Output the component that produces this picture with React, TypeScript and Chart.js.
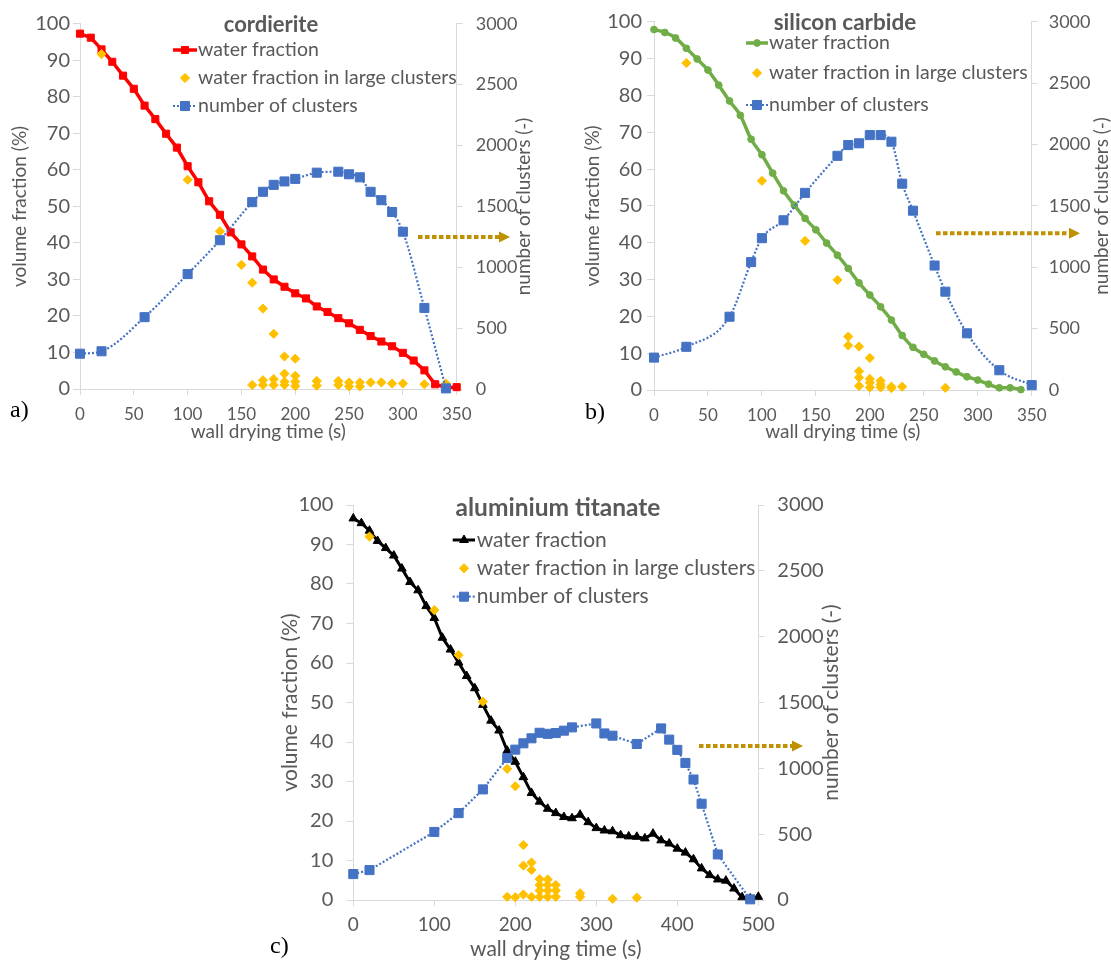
import React, { useEffect, useRef } from "react";
import { Chart, registerables } from "chart.js";

Chart.register(...registerables);

const FONT = "Lato, 'Open Sans', sans-serif";
const TEXT = "#595959";
const AXIS = "#D9D9D9";
const ARROW = "#BF9000";
const BLUE = "#4472C4";
const GOLD = "#FFC000";

// ---------------- a) cordierite ----------------
const cordTime = [0, 10, 20, 30, 40, 50, 60, 70, 80, 90, 100, 110, 120, 130, 140, 150, 160, 170, 180, 190, 200, 210, 220, 230, 240, 250, 260, 270, 280, 290, 300, 310, 320, 330, 340, 350];
const cordWater = [97.3, 96.2, 93.0, 89.6, 85.8, 82.2, 77.6, 73.9, 69.9, 66.1, 61.0, 56.6, 51.4, 47.7, 42.9, 39.6, 36.3, 32.7, 30.0, 28.0, 26.2, 24.8, 22.6, 21.1, 19.4, 18.0, 16.2, 14.5, 13.0, 11.7, 9.9, 7.8, 5.1, 1.3, 0.4, 0.5];
const cordLargeTime = [20, 100, 130, 150, 160, 170, 180, 190, 200, 190, 200, 160, 170, 170, 180, 180, 190, 190, 200, 200, 220, 220, 240, 240, 250, 250, 260, 260, 270, 280, 290, 300, 320, 340];
const cordLarge = [91.7, 57.3, 43.2, 34.0, 29.1, 22.0, 15.1, 8.9, 8.3, 4.2, 3.6, 1.1, 2.4, 1.1, 2.7, 1.1, 2.0, 1.1, 2.0, 0.8, 2.2, 0.9, 2.2, 1.1, 1.8, 0.7, 1.8, 0.7, 1.8, 1.8, 1.5, 1.5, 1.3, 1.5];
const cordClusterTime = [0, 20, 60, 100, 130, 160, 170, 180, 190, 200, 220, 240, 250, 260, 270, 280, 290, 300, 320, 340];
const cordClusters = [290, 310, 590, 944, 1222, 1535, 1620, 1677, 1705, 1726, 1777, 1785, 1764, 1739, 1620, 1551, 1454, 1292, 666, 5];

// ---------------- b) silicon carbide ----------------
const sicTime = [0, 10, 20, 30, 40, 50, 60, 70, 80, 90, 100, 110, 120, 130, 140, 150, 160, 170, 180, 190, 200, 210, 220, 230, 240, 250, 260, 270, 280, 290, 300, 310, 320, 330, 340];
const sicWater = [97.9, 97.1, 95.6, 92.8, 89.9, 86.9, 82.8, 78.5, 74.6, 68.1, 63.9, 58.9, 54.1, 50.2, 46.6, 43.5, 39.9, 36.6, 33.0, 29.1, 25.8, 22.6, 19.0, 14.8, 11.6, 9.7, 7.9, 6.3, 4.9, 3.6, 2.7, 1.6, 0.6, 0.6, 0.1];
const sicLargeTime = [30, 100, 140, 170, 180, 180, 190, 200, 190, 190, 190, 200, 200, 200, 210, 210, 210, 220, 220, 230, 270];
const sicLarge = [88.8, 56.8, 40.5, 29.9, 14.5, 12.1, 11.8, 8.7, 5.1, 3.4, 1.1, 3.0, 2.0, 0.7, 2.5, 1.5, 0.7, 0.9, 0.5, 0.9, 0.6];
const sicClusterTime = [0, 30, 70, 90, 100, 120, 140, 170, 180, 190, 200, 210, 220, 230, 240, 260, 270, 290, 320, 350];
const sicClusters = [264, 352, 597, 1042, 1237, 1383, 1606, 1908, 1996, 2010, 2077, 2077, 2023, 1681, 1461, 1014, 801, 462, 161, 40];

// ---------------- c) aluminium titanate ----------------
const atTime = [0, 10, 20, 30, 40, 50, 60, 70, 80, 90, 100, 110, 120, 130, 140, 150, 160, 170, 180, 190, 200, 210, 220, 230, 240, 250, 260, 270, 280, 290, 300, 310, 320, 330, 340, 350, 360, 370, 380, 390, 400, 410, 420, 430, 440, 450, 460, 470, 480, 490, 500];
const atWater = [96.6, 95.4, 93.5, 90.9, 89.1, 87.2, 83.9, 80.5, 78.4, 74.4, 71.4, 66.4, 63.4, 60.1, 56.7, 53.6, 49.4, 45.4, 42.9, 37.8, 35.0, 31.1, 27.1, 24.9, 23.1, 22.0, 21.0, 20.7, 21.6, 19.7, 18.2, 17.6, 17.4, 16.4, 16.1, 16.0, 15.6, 16.8, 15.1, 14.3, 13.0, 12.0, 10.3, 8.0, 6.3, 5.2, 4.9, 2.9, 0.7, 0.4, 0.8];
const atLargeTime = [20, 100, 130, 160, 190, 200, 210, 210, 220, 220, 190, 200, 210, 220, 230, 240, 230, 240, 250, 230, 240, 250, 230, 240, 250, 280, 280, 320, 350];
const atLarge = [92.0, 73.4, 62.0, 50.2, 33.2, 28.8, 13.9, 8.7, 9.5, 7.6, 0.8, 0.7, 1.4, 0.8, 5.3, 5.2, 3.8, 3.8, 3.8, 2.4, 2.4, 2.4, 0.8, 0.8, 0.8, 1.7, 0.8, 0.3, 0.6];
const atClusterTime = [0, 20, 100, 130, 160, 190, 200, 210, 220, 230, 240, 250, 260, 270, 300, 310, 320, 350, 380, 390, 400, 410, 420, 430, 450, 490];
const atClusters = [197, 227, 517, 660, 840, 1078, 1142, 1190, 1228, 1270, 1262, 1268, 1286, 1311, 1341, 1265, 1248, 1185, 1303, 1218, 1140, 1041, 915, 731, 346, 5];

const seriesLabels = ["water fraction", "water fraction in large clusters", "number of clusters"];
const leftAxisTitle = "volume fraction (%)";
const rightAxisTitle = "number of clusters (-)";
const xAxisTitle = "wall drying time (s)";

const xy = (xs: number[], ys: number[]) => xs.map((x, i) => ({ x, y: ys[i] }));

type Spec = any;

const panels: Spec[] = [
  {
    key: "a", left: 0, top: 0, w: 560, h: 445,
    area: { left: 80, right: 456.7, top: 18.3, bottom: 389 },
    xMax: 350, xStep: 50,
    title: "cordierite", titleSize: 22, titleY: 25, titleCx: 271,
    tickLeftSize: 20, tickSize: 17, tickRightSize: 18, legendSize: 19.5, axisTitleSize: 19,
    leftPad: 3, rightPad: 13, xPad: 9,
    leftTitleX: 20, rightTitleX: 524, xTitleY: 432,
    legend: { s0: 173, s1: 197, mx: 185, tx: 198, ys: [50, 78, 106] },
    arrow: { x0: 418, x1: 510, y: 237 },
    main: { time: cordTime, vals: cordWater, color: "#FF0000", width: 3.5, style: "rect", radius: 5, smooth: false },
    large: { time: cordLargeTime, vals: cordLarge },
    clusters: { time: cordClusterTime, vals: cordClusters, smooth: true },
    panelLabel: { text: "a)", x: 10, y: 409 },
  },
  {
    key: "b", left: 560, top: 0, w: 551, h: 445,
    area: { left: 94, right: 471.7, top: 18.3, bottom: 390 },
    xMax: 350, xStep: 50,
    title: "silicon carbide", titleSize: 22.5, titleY: 23, titleCx: 285,
    tickLeftSize: 20, tickSize: 17, tickRightSize: 18, legendSize: 19.5, axisTitleSize: 19,
    leftPad: 5, rightPad: 11, xPad: 9,
    leftTitleX: 33, rightTitleX: 542, xTitleY: 432,
    legend: { s0: 186, s1: 208, mx: 197, tx: 209, ys: [43, 73, 105] },
    arrow: { x0: 376, x1: 520, y: 233.3 },
    main: { time: sicTime, vals: sicWater, color: "#70AD47", width: 3.5, style: "circle", radius: 3.4, smooth: true },
    large: { time: sicLargeTime, vals: sicLarge },
    clusters: { time: sicClusterTime, vals: sicClusters, smooth: true },
    panelLabel: { text: "b)", x: 585, y: 411 },
  },
  {
    key: "c", left: 260, top: 480, w: 600, h: 480,
    area: { left: 93.3, right: 498.3, top: 23.3, bottom: 420 },
    xMax: 500, xStep: 100,
    title: "aluminium titanate", titleSize: 24.5, titleY: 28, titleCx: 298,
    tickLeftSize: 20, tickSize: 19, tickRightSize: 20, legendSize: 21, axisTitleSize: 21,
    leftPad: 13, rightPad: 13, xPad: 7.5,
    leftTitleX: 30, rightTitleX: 571, xTitleY: 469,
    legend: { s0: 192.7, s1: 215, mx: 204, tx: 216.7, ys: [60, 88.3, 116.7] },
    arrow: { x0: 439, x1: 543, y: 266 },
    main: { time: atTime, vals: atWater, color: "#000000", width: 3, style: "triangle", radius: 5, smooth: false },
    large: { time: atLargeTime, vals: atLarge },
    clusters: { time: atClusterTime, vals: atClusters, smooth: false },
    panelLabel: { text: "c)", x: 270, y: 945 },
  },
];

function drawMarker(ctx: CanvasRenderingContext2D, style: string, x: number, y: number, r: number, color: string) {
  ctx.save();
  ctx.setLineDash([]);
  ctx.fillStyle = color;
  ctx.strokeStyle = color;
  ctx.lineWidth = 1;
  ctx.beginPath();
  if (style === "rect") {
    const s = r * Math.SQRT1_2;
    ctx.rect(x - s, y - s, 2 * s, 2 * s);
  } else if (style === "rectRot") {
    ctx.moveTo(x, y - r);
    ctx.lineTo(x + r, y);
    ctx.lineTo(x, y + r);
    ctx.lineTo(x - r, y);
    ctx.closePath();
  } else if (style === "triangle") {
    for (let k = 0; k < 3; k++) {
      const a = (k * 2 * Math.PI) / 3;
      const px = x + Math.sin(a) * r;
      const py = y - Math.cos(a) * r;
      if (k === 0) ctx.moveTo(px, py);
      else ctx.lineTo(px, py);
    }
    ctx.closePath();
  } else {
    ctx.arc(x, y, r, 0, Math.PI * 2);
  }
  ctx.fill();
  ctx.stroke();
  ctx.restore();
}

const decorPlugin = {
  id: "decor",
  afterDraw(chart: any, _args: any, o: any) {
    const { ctx, chartArea: ca } = chart;
    const p: Spec = o.spec;
    if (!p) return;
    ctx.save();
    // chart title
    ctx.fillStyle = TEXT;
    ctx.font = `bold ${p.titleSize}px ${FONT}`;
    ctx.textAlign = "center";
    ctx.textBaseline = "middle";
    ctx.fillText(p.title, p.titleCx, p.titleY);

    // legend
    const lg = p.legend;
    ctx.font = `${p.legendSize}px ${FONT}`;
    ctx.textAlign = "left";
    chart.data.datasets.forEach((d: any, i: number) => {
      ctx.fillStyle = TEXT;
      ctx.fillText(d.label, lg.tx, lg.ys[i]);
    });
    // row 1
    ctx.strokeStyle = p.main.color;
    ctx.lineWidth = p.main.width;
    ctx.setLineDash([]);
    ctx.beginPath();
    ctx.moveTo(lg.s0, lg.ys[0]);
    ctx.lineTo(lg.s1, lg.ys[0]);
    ctx.stroke();
    drawMarker(ctx, p.main.style, lg.mx, lg.ys[0], p.main.radius, p.main.color);
    // row 2
    drawMarker(ctx, "rectRot", lg.mx, lg.ys[1], 4.6, GOLD);
    // row 3
    ctx.strokeStyle = BLUE;
    ctx.lineWidth = 2.2;
    ctx.setLineDash([2, 2]);
    ctx.beginPath();
    ctx.moveTo(lg.s0, lg.ys[2]);
    ctx.lineTo(lg.s1, lg.ys[2]);
    ctx.stroke();
    ctx.setLineDash([]);
    drawMarker(ctx, "rect", lg.mx, lg.ys[2], 6.4, BLUE);

    // arrow
    const ar = p.arrow;
    const head = 11;
    ctx.strokeStyle = ARROW;
    ctx.lineWidth = 4;
    ctx.setLineDash([4.5, 2.5]);
    ctx.beginPath();
    ctx.moveTo(ar.x0, ar.y);
    ctx.lineTo(ar.x1 - head, ar.y);
    ctx.stroke();
    ctx.setLineDash([]);
    ctx.fillStyle = ARROW;
    ctx.beginPath();
    ctx.moveTo(ar.x1, ar.y);
    ctx.lineTo(ar.x1 - head, ar.y - 5.5);
    ctx.lineTo(ar.x1 - head, ar.y + 5.5);
    ctx.closePath();
    ctx.fill();

    // right axis title (reads bottom-to-top)
    ctx.save();
    ctx.translate(p.rightTitleX, (ca.top + ca.bottom) / 2);
    ctx.rotate(-Math.PI / 2);
    ctx.font = `${p.axisTitleSize}px ${FONT}`;
    ctx.fillStyle = TEXT;
    ctx.textAlign = "center";
    ctx.textBaseline = "middle";
    ctx.fillText(rightAxisTitle, 0, 0);
    ctx.restore();

    ctx.restore();
  },
};

function buildConfig(p: Spec): any {
  const lh = p.axisTitleSize * 1.2;
  const plain = (v: any) => String(v);
  return {
    type: "line",
    data: {
      datasets: [
        {
          label: seriesLabels[0],
          data: xy(p.main.time, p.main.vals),
          yAxisID: "y",
          borderColor: p.main.color,
          backgroundColor: p.main.color,
          borderWidth: p.main.width,
          pointStyle: p.main.style,
          pointRadius: p.main.radius,
          pointBorderWidth: 1,
          cubicInterpolationMode: p.main.smooth ? "monotone" : "default",
          tension: 0,
          clip: false,
          order: 3,
        },
        {
          label: seriesLabels[1],
          data: xy(p.large.time, p.large.vals),
          yAxisID: "y",
          showLine: false,
          borderColor: GOLD,
          backgroundColor: GOLD,
          pointStyle: "rectRot",
          pointRadius: 4.6,
          pointBorderWidth: 1,
          clip: false,
          order: 2,
        },
        {
          label: seriesLabels[2],
          data: xy(p.clusters.time, p.clusters.vals),
          yAxisID: "y1",
          borderColor: BLUE,
          backgroundColor: BLUE,
          borderWidth: 2.2,
          borderDash: [2, 2],
          pointStyle: "rect",
          pointRadius: 6.4,
          pointBorderWidth: 1,
          cubicInterpolationMode: p.clusters.smooth ? "monotone" : "default",
          tension: 0,
          clip: false,
          order: 1,
        },
      ],
    },
    options: {
      animation: false,
      responsive: false,
      maintainAspectRatio: false,
      events: [],
      layout: { padding: { top: p.area.top, left: 0, right: 0, bottom: 0 } },
      plugins: {
        legend: { display: false },
        tooltip: { enabled: false },
        title: { display: false },
        decor: { spec: p },
      },
      scales: {
        x: {
          type: "linear",
          position: "bottom",
          min: 0,
          max: p.xMax,
          ticks: {
            stepSize: p.xStep,
            color: TEXT,
            font: { family: FONT, size: p.tickSize },
            padding: p.xPad,
            maxRotation: 0,
            autoSkip: false,
            callback: plain,
          },
          grid: { drawOnChartArea: false, tickLength: 6, color: AXIS, lineWidth: 1 },
          border: { color: AXIS, width: 1 },
          title: {
            display: true,
            text: xAxisTitle,
            color: TEXT,
            font: { family: FONT, size: p.axisTitleSize },
            padding: { top: 0, bottom: p.h - p.xTitleY - lh / 2 },
          },
          afterFit: (s: any) => {
            s.height = p.h - p.area.bottom;
          },
        },
        y: {
          type: "linear",
          position: "left",
          min: 0,
          max: 100,
          ticks: {
            stepSize: 10,
            color: TEXT,
            font: { family: FONT, size: p.tickLeftSize },
            padding: p.leftPad,
            callback: plain,
          },
          grid: { drawOnChartArea: false, tickLength: 7, color: AXIS, lineWidth: 1 },
          border: { color: AXIS, width: 1 },
          title: {
            display: true,
            text: leftAxisTitle,
            color: TEXT,
            font: { family: FONT, size: p.axisTitleSize },
            padding: { top: p.leftTitleX - lh / 2, bottom: 0 },
          },
          afterFit: (s: any) => {
            s.width = p.area.left;
          },
        },
        y1: {
          type: "linear",
          position: "right",
          min: 0,
          max: 3000,
          ticks: {
            stepSize: 500,
            color: TEXT,
            font: { family: FONT, size: p.tickRightSize },
            padding: p.rightPad,
            callback: plain,
          },
          grid: { drawOnChartArea: false, tickLength: 6, color: AXIS, lineWidth: 1 },
          border: { color: AXIS, width: 1 },
          afterFit: (s: any) => {
            s.width = p.w - p.area.right;
          },
        },
      },
    },
    plugins: [decorPlugin],
  };
}

function Panel({ p }: { p: Spec }) {
  const ref = useRef<HTMLCanvasElement | null>(null);
  useEffect(() => {
    if (!ref.current) return;
    const chart = new Chart(ref.current, buildConfig(p));
    return () => chart.destroy();
  }, [p]);
  return (
    <canvas
      ref={ref}
      width={p.w}
      height={p.h}
      style={{ position: "absolute", left: p.left, top: p.top, width: p.w, height: p.h }}
    />
  );
}

export default function App() {
  return (
    <div style={{ position: "absolute", left: 0, top: 0, width: 1111, height: 960, background: "#ffffff", overflow: "hidden" }}>
      {panels.map((p) => (
        <Panel key={p.key} p={p} />
      ))}
      {panels.map((p) => (
        <div
          key={"lbl" + p.key}
          style={{
            position: "absolute",
            left: p.panelLabel.x,
            top: p.panelLabel.y - 12,
            fontFamily: "'Liberation Serif', 'Times New Roman', serif",
            fontSize: 24,
            lineHeight: "24px",
            color: "#000",
          }}
        >
          {p.panelLabel.text}
        </div>
      ))}
    </div>
  );
}
